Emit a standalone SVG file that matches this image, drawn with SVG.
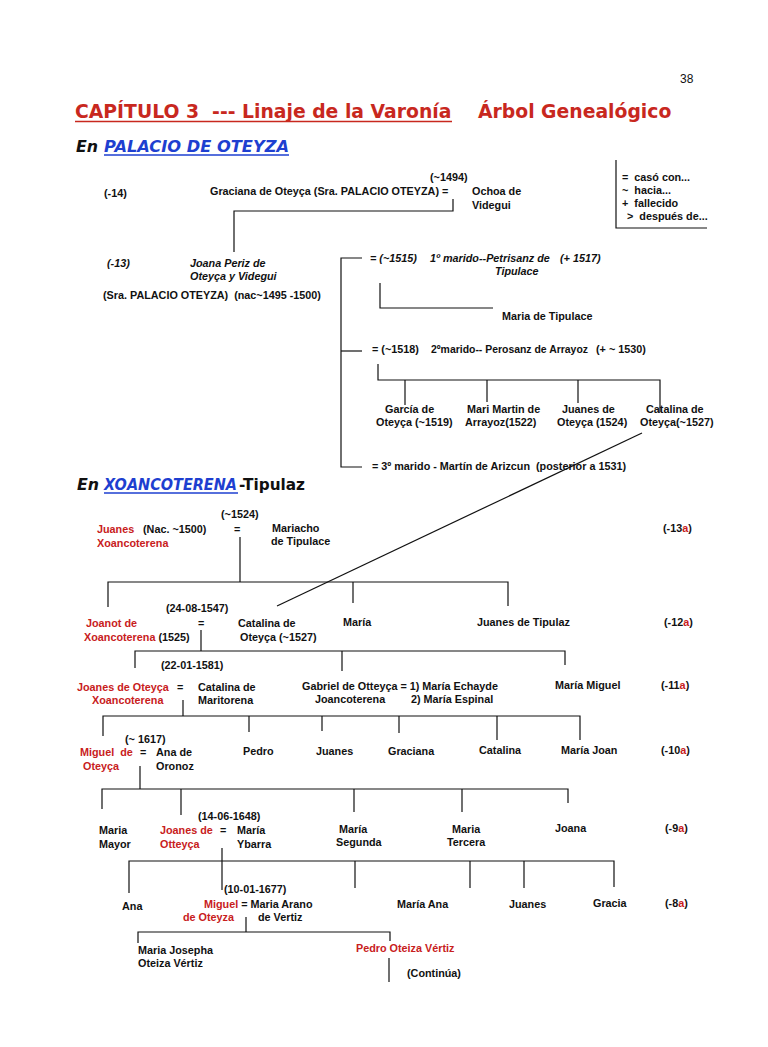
<svg xmlns="http://www.w3.org/2000/svg" width="768" height="1047" viewBox="0 0 768 1047">
<style>
text{font-family:"Liberation Sans",Arial,sans-serif;font-weight:bold;font-size:10.8px;fill:#111;white-space:pre}
.i{font-style:italic}
.r{fill:#c8201c}
.h{font-family:"DejaVu Sans",Verdana,sans-serif;font-weight:bold}
.title{font-size:18.8px;fill:#c8281e}
.sub{font-size:15.8px;font-style:italic}
.sub2{font-size:15.8px}
.n{font-style:normal;fill:#111}
.b{fill:#1e3fd0}
.pg{font-weight:normal;font-size:12px}
.c line,.c polyline{stroke:#111;stroke-width:1.2;fill:none}
.u{stroke-width:1.5}
</style>
<rect width="768" height="1047" fill="#fff"/>
<g id="header">
<text class="pg" x="680" y="83">38</text>
<text class="h title" x="75" y="118">CAPÍTULO 3  --- Linaje de la Varonía</text>
<line class="u" x1="75" y1="121.5" x2="452" y2="121.5" stroke="#c8281e"/>
<text class="h title" x="478" y="118">Árbol Genealógico</text>
<text class="h sub" x="76" y="152">En</text>
<text class="h sub b" x="104" y="152" textLength="185" lengthAdjust="spacingAndGlyphs">PALACIO DE OTEYZA</text>
<line class="u" x1="104" y1="155" x2="289" y2="155" stroke="#1e3fd0"/>
</g>
<g id="legend">
<text x="622" y="181">=  casó con...</text>
<text x="622" y="194">~  hacia...</text>
<text x="622" y="207">+  fallecido</text>
<text x="627" y="220">&gt;  después de...</text>
</g>
<g id="gen-14">
<text x="104" y="197">(-14)</text>
<text x="430" y="181">(~1494)</text>
<text x="210" y="195">Graciana de Oteyça (Sra. PALACIO OTEYZA) =</text>
<text x="472" y="195">Ochoa de</text>
<text x="472" y="209">Videgui</text>
</g>
<g id="gen-13">
<text class="i" x="107" y="267">(-13)</text>
<text class="i" x="190" y="267">Joana Periz de</text>
<text class="i" x="190" y="280">Oteyça y Videgui</text>
<text x="103" y="299">(Sra. PALACIO OTEYZA)  (nac~1495 -1500)</text>
</g>
<g id="marriage1">
<text class="i" x="370" y="262">= (~1515)</text>
<text class="i" x="430" y="262">1º marido--Petrisanz de</text>
<text class="i" x="560" y="262">(+ 1517)</text>
<text class="i" x="495" y="275">Tipulace</text>
</g>
<g id="maria-tipulace"><text x="502" y="320">Maria de Tipulace</text></g>
<g id="marriage2">
<text x="372" y="353">= (~1518)</text>
<text x="431" y="353" textLength="157" lengthAdjust="spacingAndGlyphs">2ºmarido-- Perosanz de Arrayoz</text>
<text x="596" y="353">(+ ~ 1530)</text>
</g>
<g id="garcia"><text x="385" y="413">García de</text><text x="376" y="426">Oteyça (~1519)</text></g>
<g id="mari-martin"><text x="467" y="413">Mari Martin de</text><text x="465" y="426">Arrayoz(1522)</text></g>
<g id="juanes-oteyca"><text x="562" y="413">Juanes de</text><text x="557" y="426">Oteyça (1524)</text></g>
<g id="catalina-oteyca"><text x="646" y="413">Catalina de</text><text x="640" y="426">Oteyça(~1527)</text></g>
<g id="marriage3"><text x="372" y="470">= 3º marido - Martín de Arizcun  (posterior a 1531)</text></g>
<g id="header2">
<text class="h sub" x="77" y="490">En</text>
<text class="h sub b" x="104" y="490"><tspan textLength="133" lengthAdjust="spacingAndGlyphs">XOANCOTERENA</tspan><tspan class="n" x="239" textLength="66" lengthAdjust="spacingAndGlyphs">-Tipulaz</tspan></text>
<line class="u" x1="104" y1="493" x2="238" y2="493" stroke="#1e3fd0"/>
</g>
<g id="gen-13a">
<text x="221" y="518">(~1524)</text>
<text class="r" x="97" y="533">Juanes</text><text x="143" y="533">(Nac. ~1500)</text>
<text class="r" x="97" y="547">Xoancoterena</text>
<text x="234" y="533">=</text>
<text x="272" y="532">Mariacho</text>
<text x="271" y="545">de Tipulace</text>
<text x="663" y="532">(-13<tspan class="r">a</tspan>)</text>
</g>
<g id="gen-12a">
<text x="166" y="612">(24-08-1547)</text>
<text class="r" x="86" y="627">Joanot de</text>
<text x="84" y="641"><tspan class="r">Xoancoterena</tspan> (1525)</text>
<text x="198" y="627">=</text>
<text x="238" y="627">Catalina de</text>
<text x="240" y="641">Oteyça (~1527)</text>
<text x="343" y="626">María</text>
<text x="477" y="626">Juanes de Tipulaz</text>
<text x="664" y="626">(-12<tspan class="r">a</tspan>)</text>
</g>
<g id="gen-11a">
<text x="161" y="669">(22-01-1581)</text>
<text class="r" x="77" y="691">Joanes de Oteyça</text>
<text class="r" x="92" y="704">Xoancoterena</text>
<text x="177" y="691">=</text>
<text x="198" y="691">Catalina de</text>
<text x="198" y="704">Maritorena</text>
<text x="302" y="690">Gabriel de Otteyça = 1) María Echayde</text>
<text x="315" y="703">Joancoterena</text>
<text x="411" y="703">2) María Espinal</text>
<text x="555" y="689">María Miguel</text>
<text x="661" y="689">(-11<tspan class="r">a</tspan>)</text>
</g>
<g id="gen-10a">
<text x="125" y="743">(~ 1617)</text>
<text class="r" x="80" y="756">Miguel  de</text>
<text class="r" x="83" y="770">Oteyça</text>
<text x="140" y="756">=</text>
<text x="156" y="756">Ana de</text>
<text x="156" y="770">Oronoz</text>
<text x="243" y="755">Pedro</text>
<text x="316" y="755">Juanes</text>
<text x="388" y="755">Graciana</text>
<text x="479" y="754">Catalina</text>
<text x="561" y="754">María Joan</text>
<text x="661" y="754">(-10<tspan class="r">a</tspan>)</text>
</g>
<g id="gen-9a">
<text x="198" y="820">(14-06-1648)</text>
<text x="99" y="834">Maria</text><text x="99" y="848">Mayor</text>
<text class="r" x="160" y="834">Joanes de</text><text class="r" x="160" y="848">Otteyça</text>
<text x="220" y="834">=</text>
<text x="237" y="834">María</text><text x="237" y="848">Ybarra</text>
<text x="339" y="833">María</text><text x="336" y="846">Segunda</text>
<text x="452" y="833">Maria</text><text x="447" y="846">Tercera</text>
<text x="555" y="832">Joana</text>
<text x="665" y="832">(-9<tspan class="r">a</tspan>)</text>
</g>
<g id="gen-8a">
<text x="224" y="893">(10-01-1677)</text>
<text x="122" y="910">Ana</text>
<text x="204" y="908"><tspan class="r">Miguel</tspan> = Maria Arano</text>
<text class="r" x="183" y="921">de Oteyza</text>
<text x="258" y="921">de Vertiz</text>
<text x="397" y="908">María Ana</text>
<text x="509" y="908">Juanes</text>
<text x="593" y="907">Gracia</text>
<text x="665" y="907">(-8<tspan class="r">a</tspan>)</text>
</g>
<g id="gen-7a">
<text x="138" y="954">Maria Josepha</text>
<text x="138" y="967">Oteiza Vértiz</text>
<text class="r" x="356" y="952">Pedro Oteiza Vértiz</text>
<text x="407" y="977">(Continúa)</text>
</g>
<g id="connectors" class="c">
<polyline points="616,160 616,228 707,228"/>
<polyline points="453,199 453,211 234,211 234,252"/>
<polyline points="362,258 341,258 341,467 362,467"/>
<line x1="341" y1="351" x2="362" y2="351"/>
<polyline points="380,283 380,308 493,308"/>
<polyline points="378,364 378,380 660,380 660,412"/>
<line x1="405" y1="380" x2="405" y2="405"/>
<line x1="487" y1="380" x2="487" y2="402"/>
<line x1="578" y1="380" x2="578" y2="403"/>
<line x1="642" y1="433" x2="277" y2="606"/>
<line x1="240" y1="537" x2="240" y2="582"/>
<polyline points="108,607 108,582 508,582 508,606"/>
<line x1="353" y1="582" x2="353" y2="603"/>
<line x1="201" y1="630" x2="201" y2="651"/>
<polyline points="135,668 135,651 565,651 565,665"/>
<line x1="342" y1="651" x2="342" y2="671"/>
<line x1="183" y1="700" x2="183" y2="716"/>
<polyline points="103,736 103,716 580,716 580,740"/>
<line x1="249" y1="716" x2="249" y2="732"/>
<line x1="322" y1="716" x2="322" y2="731"/>
<line x1="399" y1="716" x2="399" y2="733"/>
<line x1="497" y1="716" x2="497" y2="740"/>
<line x1="140" y1="766" x2="140" y2="789"/>
<polyline points="102,809 102,789 568,789 568,803"/>
<line x1="181" y1="789" x2="181" y2="815"/>
<line x1="354" y1="789" x2="354" y2="812"/>
<line x1="462" y1="789" x2="462" y2="812"/>
<line x1="222" y1="848" x2="222" y2="890"/>
<polyline points="129,893 129,861 614,861 614,887"/>
<line x1="355" y1="861" x2="355" y2="888"/>
<line x1="470" y1="861" x2="470" y2="888"/>
<line x1="524" y1="861" x2="524" y2="888"/>
<line x1="246" y1="917" x2="246" y2="932"/>
<polyline points="138,943 138,932 390,932 390,941"/>
<line x1="389" y1="958" x2="389" y2="982"/>
</g>
</svg>
